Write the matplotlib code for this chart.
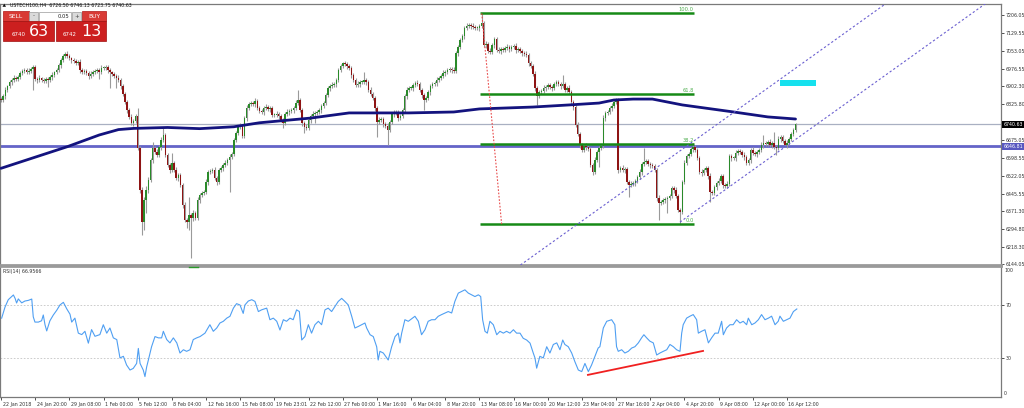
import matplotlib
matplotlib.use("Agg")
import matplotlib.pyplot as plt
from matplotlib.patches import Rectangle, Polygon
import matplotlib.transforms as mtransforms

# ---------------- data ----------------
first_open = 6850
closes = [
    6844, 6861, 6887, 6904, 6921, 6929, 6938, 6934, 6942, 6959,
    6968, 6972, 6963, 6968, 6976, 6985, 6934, 6929, 6938, 6929,
    6925, 6934, 6929, 6942, 6951, 6963, 6972, 6993, 7014, 7031,
    7040, 7031, 7023, 7014, 7010, 7002, 7006, 6972, 6963, 6968,
    6959, 6946, 6955, 6963, 6968, 6972, 6963, 6980, 6980, 6985,
    6972, 6963, 6955, 6946, 6938, 6929, 6904, 6870, 6835, 6801,
    6772, 6746, 6755, 6776, 6640, 6461, 6324, 6418, 6461, 6503,
    6588, 6640, 6623, 6610, 6644, 6674, 6695, 6610, 6567, 6546,
    6576, 6546, 6512, 6525, 6482, 6397, 6333, 6324, 6354, 6341,
    6363, 6341, 6418, 6439, 6448, 6452, 6495, 6537, 6542, 6546,
    6512, 6495, 6546, 6554, 6567, 6576, 6588, 6601, 6614, 6674,
    6703, 6729, 6733, 6691, 6767, 6810, 6827, 6831, 6827, 6840,
    6810, 6797, 6793, 6810, 6814, 6806, 6810, 6780, 6780, 6784,
    6776, 6759, 6746, 6784, 6793, 6797, 6801, 6810, 6831, 6844,
    6801, 6746, 6729, 6725, 6759, 6776, 6784, 6789, 6793, 6801,
    6818, 6831, 6865, 6895, 6904, 6908, 6912, 6929, 6972, 6989,
    7002, 6997, 6989, 6980, 6951, 6929, 6908, 6912, 6921, 6921,
    6929, 6921, 6887, 6870, 6852, 6810, 6750, 6759, 6763, 6742,
    6733, 6716, 6750, 6784, 6793, 6789, 6767, 6776, 6801, 6861,
    6887, 6895, 6895, 6908, 6916, 6912, 6887, 6865, 6844, 6852,
    6878, 6904, 6912, 6916, 6929, 6938, 6946, 6959, 6963, 6972,
    6976, 6972, 6968, 7044, 7070, 7100, 7117, 7151, 7159, 7163,
    7159, 7155, 7151, 7151, 7159, 7172, 7078, 7083, 7053, 7048,
    7078, 7104, 7057, 7053, 7061, 7057, 7065, 7070, 7061, 7070,
    7074, 7057, 7061, 7053, 7044, 7040, 7036, 7002, 6989, 6955,
    6895, 6861, 6878, 6882, 6895, 6899, 6908, 6899, 6895, 6912,
    6921, 6912, 6904, 6912, 6887, 6895, 6878, 6835, 6814, 6737,
    6699, 6652, 6631, 6648, 6644, 6635, 6567, 6537, 6588, 6622,
    6640, 6648, 6767, 6789, 6793, 6810, 6818, 6835, 6844, 6546,
    6554, 6546, 6550, 6495, 6482, 6486, 6490, 6499, 6516, 6537,
    6571, 6580, 6584, 6571, 6567, 6563, 6546, 6426, 6405, 6410,
    6418, 6422, 6426, 6435, 6469, 6461, 6435, 6375, 6367, 6495,
    6576, 6605, 6614, 6635, 6644, 6631, 6597, 6537, 6533, 6546,
    6554, 6520, 6452, 6448, 6473, 6490, 6499, 6520, 6482, 6478,
    6486, 6605, 6597, 6597, 6618, 6627, 6622, 6610, 6601, 6576,
    6588, 6631, 6618, 6614, 6622, 6631, 6652, 6661, 6657, 6665,
    6652, 6661, 6644, 6640, 6678, 6686, 6669, 6652, 6661, 6678,
    6699, 6716, 6740.63,
]
up_wick = [
    8, 10, 12, 6, 9, 8, 11, 7, 9, 10,
    6, 9, 8, 12, 7, 10, 9, 8, 11, 6,
    9, 7, 10, 8, 12, 6, 9, 8, 10, 7,
    9, 11, 8, 6, 10, 9, 7, 12, 8, 10,
    6, 9, 11, 8, 10, 7, 9, 12, 8, 10,
    7, 9, 6, 10, 8, 11, 9, 7, 10, 8,
    9, 12, 8, 10, 34, 9, 14, 11, 18, 12,
    10, 25, 8, 11, 9, 12, 30, 9, 10, 8,
    42, 9, 11, 8, 10, 7, 12, 9, 77, 10,
    14, 9, 11, 8, 10, 7, 12, 9, 10, 8,
    11, 9, 7, 10, 8, 12, 9, 11, 8, 10,
    9, 7, 11, 8, 10, 12, 9, 8, 10, 12,
    8, 10, 7, 9, 11, 8, 10, 9, 7, 12,
    9, 8, 10, 7, 11, 9, 8, 10, 12, 43,
    9, 10, 8, 11, 7, 9, 12, 8, 10, 9,
    11, 8, 10, 9, 7, 12, 8, 10, 9, 8,
    5, 9, 11, 8, 10, 7, 9, 12, 8, 10,
    34, 9, 8, 11, 7, 10, 9, 12, 8, 10,
    9, 11, 8, 10, 7, 9, 12, 8, 10, 9,
    11, 8, 10, 9, 7, 12, 8, 10, 9, 11,
    8, 10, 9, 7, 11, 8, 10, 12, 9, 8,
    10, 9, 11, 8, 10, 7, 9, 8, 12, 10,
    9, 11, 8, 10, 9, 42, 10, 12, 9, 11,
    10, 8, 9, 11, 8, 10, 9, 12, 8, 10,
    9, 11, 8, 10, 7, 9, 12, 8, 10, 9,
    11, 8, 10, 9, 12, 8, 10, 9, 11, 8,
    10, 9, 8, 38, 10, 9, 11, 8, 10, 9,
    12, 8, 10, 9, 11, 8, 10, 9, 12, 8,
    10, 9, 11, 8, 10, 9, 12, 8, 8, 10,
    9, 11, 8, 10, 9, 12, 8, 10, 9, 11,
    8, 60, 10, 9, 11, 8, 10, 9, 12, 8,
    10, 9, 11, 8, 10, 9, 12, 8, 10, 9,
    11, 8, 10, 9, 17, 8, 10, 9, 12, 8,
    10, 9, 11, 8, 10, 9, 12, 8, 10, 9,
    11, 8, 10, 9, 12, 8, 10, 9, 11, 8,
    10, 9, 12, 8, 10, 9, 11, 34, 10, 9,
    12, 8, 47, 9, 11, 8, 10, 9, 12, 8,
    10, 9, 6,
]
dn_wick = [
    9, 7, 11, 8, 10, 12, 8, 9, 7, 10,
    8, 11, 9, 7, 10, 89, 8, 12, 9, 10,
    7, 9, 30, 8, 11, 9, 10, 7, 12, 8,
    10, 9, 7, 11, 8, 10, 9, 12, 8, 10,
    9, 11, 8, 10, 7, 9, 30, 8, 10, 9,
    11, 68, 9, 8, 43, 10, 12, 9, 8, 11,
    10, 8, 12, 9, 10, 14, 55, 34, 55, 12,
    9, 11, 8, 10, 9, 12, 8, 10, 9, 11,
    8, 10, 9, 12, 8, 11, 10, 25, 34, 170,
    12, 10, 9, 11, 8, 10, 9, 12, 8, 10,
    9, 11, 8, 10, 12, 9, 8, 136, 10, 9,
    11, 8, 10, 10, 9, 12, 8, 10, 9, 11,
    10, 8, 9, 11, 8, 10, 12, 9, 10, 8,
    11, 9, 21, 10, 8, 12, 9, 11, 8, 10,
    9, 12, 26, 10, 8, 11, 9, 38, 10, 8,
    12, 9, 10, 8, 11, 9, 10, 12, 8, 9,
    10, 8, 11, 9, 12, 10, 8, 9, 11, 10,
    9, 12, 8, 10, 9, 11, 64, 10, 8, 12,
    9, 64, 10, 8, 11, 9, 12, 10, 8, 9,
    11, 10, 9, 12, 8, 10, 9, 11, 43, 10,
    8, 12, 9, 10, 11, 8, 10, 9, 12, 8,
    10, 11, 9, 8, 12, 10, 9, 11, 8, 10,
    12, 9, 10, 8, 11, 9, 10, 12, 8, 10,
    9, 11, 8, 10, 12, 9, 10, 8, 11, 9,
    10, 12, 8, 9, 11, 10, 8, 12, 9, 10,
    11, 38, 9, 10, 8, 12, 10, 9, 11, 8,
    10, 9, 12, 8, 11, 10, 9, 8, 12, 10,
    9, 11, 10, 8, 12, 9, 10, 12, 8, 10,
    63, 10, 9, 11, 8, 10, 12, 9, 10, 11,
    8, 10, 12, 9, 51, 10, 8, 11, 9, 10,
    12, 8, 10, 9, 11, 10, 8, 12, 72, 10,
    9, 11, 59, 10, 8, 12, 9, 10, 51, 10,
    8, 11, 10, 9, 12, 8, 10, 9, 11, 10,
    9, 12, 42, 10, 8, 11, 9, 10, 12, 8,
    10, 9, 11, 8, 12, 10, 9, 8, 11, 10,
    9, 12, 10, 8, 11, 9, 10, 12, 8, 10,
    9, 11, 10, 30, 8, 12, 9, 10, 11, 8,
    10, 9, 8,
]

# moving average
ma_bars = [0, 31, 46, 55, 62, 78, 93, 109, 121, 145, 163, 191, 212, 224,
           249, 266, 280, 287, 296, 305, 319, 343, 359, 372]
ma_vals = [6553, 6645, 6695, 6718, 6723, 6727, 6722, 6730, 6747, 6767, 6789,
           6789, 6793, 6806, 6814, 6823, 6831, 6844, 6848, 6848, 6823, 6793,
           6772, 6763]

# RSI(14) samples
rsi_bars = [0.3, 1.9, 3.4, 5.8, 6.6, 7.3, 8.1, 9.7, 11.2, 12.8, 14.4, 15.1, 15.9,
            17.5, 19.0, 19.8, 20.6, 21.4, 22.9, 24.5, 26.1, 27.6, 29.2, 30.8, 32.3,
            33.1, 34.6, 36.2, 37.8, 39.3, 40.9, 42.4, 44.0, 46.3, 47.9, 49.5, 51.0,
            52.6, 54.2, 55.7, 57.3, 58.8, 60.4, 61.9, 63.5, 64.3, 65.1, 66.6, 67.4,
            68.2, 69.0, 70.5, 72.1, 73.7, 75.2, 76.0, 77.6, 79.1, 80.7, 82.3, 83.8,
            85.4, 86.9, 88.5, 90.0, 91.6, 93.2, 95.5, 97.8, 99.4, 101.0, 102.5,
            104.1, 105.7, 107.2, 108.8, 110.3, 111.9, 113.4, 114.2, 115.8, 117.4,
            118.9, 120.5, 122.0, 124.4, 125.9, 127.5, 129.1, 130.6, 132.2, 133.7,
            135.3, 136.8, 138.4, 139.7, 140.8, 142.3, 143.9, 145.4, 147.0, 148.6,
            150.1, 151.7, 153.2, 154.8, 156.4, 157.9, 159.5, 161.0, 162.6, 164.2,
            165.7, 167.3, 168.9, 170.4, 171.2, 172.8, 174.3, 175.9, 176.6, 177.4,
            179.0, 180.6, 181.3, 182.9, 184.5, 186.0, 186.8, 187.6, 189.1, 190.7,
            193.8, 195.4, 196.9, 198.5, 200.0, 201.6, 203.2, 204.7, 206.3, 207.9,
            209.4, 211.0, 212.5, 214.1, 215.7, 217.2, 218.8, 220.4, 221.9, 223.5,
            224.6, 225.5, 226.6, 227.7, 228.9, 230.5, 232.1, 233.6, 235.2, 236.7,
            238.3, 239.9, 241.4, 243.0, 244.5, 246.1, 247.7, 249.2, 250.0, 250.8,
            252.3, 253.9, 255.5, 257.0, 258.6, 260.2, 261.7, 263.0, 264.0, 265.6,
            267.2, 268.7, 270.3, 271.9, 273.4, 275.0, 276.5, 278.1, 279.6, 280.4,
            282.0, 283.6, 285.9, 287.4, 288.2, 289.0, 290.6, 292.1, 293.7, 295.3,
            296.8, 298.4, 299.9, 301.0, 302.3, 303.8, 305.4, 307.0, 308.5, 310.1,
            311.7, 313.2, 314.8, 316.3, 317.9, 318.7, 319.4, 321.0, 322.6, 324.1,
            325.7, 326.5, 328.0, 329.6, 331.2, 332.7, 334.3, 335.8, 337.4, 338.2,
            339.7, 341.3, 342.8, 344.4, 346.0, 347.5, 349.1, 349.9, 351.5, 353.0,
            354.6, 356.1, 357.7, 359.3, 360.8, 362.4, 363.9, 364.7, 366.3, 367.9,
            369.4, 371.0, 372.6]
rsi_vals = [60, 68.5, 74, 77.6, 75, 71.5, 74.6, 71.6, 73, 73.5, 74.5, 61, 57,
            57, 58, 62.4, 55, 50.3, 58, 62.4, 66, 70, 72, 67, 63,
            57, 60, 48.6, 47.5, 50, 41, 51.3, 46.2, 47.5, 55, 48.6, 52.5,
            45, 43.7, 29.8, 31, 24.4, 20.6, 21.8, 25.6, 37, 25.6, 20.6, 15.6,
            23, 28.2, 38.3, 46, 45, 45, 50, 43.7, 41.2, 45, 41.2, 33.5,
            36, 34.8, 36, 43.7, 45, 46, 48.6, 55, 50, 52.5, 56.3,
            57.6, 60, 61.4, 67.6, 71, 70, 63.6, 70, 73, 74,
            72.7, 65, 66.3, 67.6, 58.8, 60, 57.6, 51, 58.8, 57.6,
            60, 58.8, 66.3, 65, 43.4, 46, 55, 48.6, 55, 57.6,
            55, 66.3, 67.6, 65, 69, 72.7, 75, 72.7, 70, 61.4,
            52.5, 53.7, 55, 56.3, 52.5, 47.4, 46, 38.2, 28.2, 34.8,
            33.5, 29.8, 28.2, 38.2, 46, 48.6, 41.2, 48.6, 58.8, 57.6,
            61.4, 57.6, 47.4, 51.2, 57.6, 58.8, 58.8, 61.4, 62.7, 63.9,
            65, 63.9, 72.7, 79, 80.3, 81.5, 79, 77.7, 76.4, 77.7,
            76.4, 58.8, 50, 48.6, 57.6, 55, 47.4, 50, 48.6, 50,
            48.6, 51.2, 48.6, 48.6, 44.7, 43.4, 41, 33.5, 29.8, 22,
            31, 29.8, 38.3, 33.5, 40, 41.2, 36, 43.4, 40, 38.3,
            33.5, 26.9, 20.6, 19.4, 25.6, 19.4, 24.4, 31, 37.3, 38.3,
            52.5, 57.6, 58.8, 55, 38.3, 34.8, 36, 33.5, 34.8, 37.3,
            38.3, 41.2, 45, 47.4, 45, 42.5, 41.2, 32, 33.5, 34.8,
            36, 40, 38.3, 36, 34.8, 48.6, 55, 60, 61.5, 62.7,
            58.8, 48.6, 50, 51.2, 41.2, 45, 48.6, 48.6, 57.6, 47.4,
            52.5, 55, 55, 58.8, 56.3, 57.6, 55, 60, 55, 56.3,
            58.8, 62.7, 58.8, 60, 61.5, 55, 57.6, 61.5, 57.6, 58.8,
            60, 65, 66.96]

price_ticks = [7206.05, 7129.55, 7053.05, 6976.55, 6902.30, 6825.80, 6675.05,
               6598.55, 6522.05, 6445.55, 6371.30, 6294.80, 6218.30, 6144.05]
time_ticks = [0, 16, 32, 48, 64, 80, 96, 112, 128, 144, 160, 176, 192, 208, 224,
              240, 256, 272, 288, 304, 320, 336, 352, 368]
time_labels = ["22 Jan 2018", "24 Jan 20:00", "29 Jan 08:00", "1 Feb 00:00",
               "5 Feb 12:00", "8 Feb 04:00", "12 Feb 16:00", "15 Feb 08:00",
               "19 Feb 23:01", "22 Feb 12:00", "27 Feb 00:00", "1 Mar 16:00",
               "6 Mar 04:00", "8 Mar 20:00", "13 Mar 08:00", "16 Mar 00:00",
               "20 Mar 12:00", "23 Mar 04:00", "27 Mar 16:00", "2 Apr 04:00",
               "4 Apr 20:00", "9 Apr 08:00", "12 Apr 00:00", "16 Apr 12:00"]

last_price = 6740.63
hline_price = 6646.81
fib_levels = [7213.0, 6869.8, 6657.7, 6314.5]
fib_labels = ["100.0", "61.8", "38.2", "0.0"]
fib_start, fib_end = 224.3, 324.4
fib_trend = ([225.1, 234.4], [7213.0, 6314.5])
# equidistant channel rays: two anchor points each, extended to the right
chan_a = ([243.2, 381.0], [6141.0, 7038.0])
chan_b = ([317.9, 380.0], [6324.0, 6728.0])
cyan_box = (364.7, 6903.6, 17.0, 25.4)
rsi_trend = ([274.8, 328.7], [16.9, 35.1])

# ---------------- figure ----------------
W, H = 1024, 408
plt.rcParams['font.family'] = ['DejaVu Sans']
fig = plt.figure(figsize=(W / 100, H / 100), dpi=100)
fig.patch.set_facecolor('white')

def frac(px0, py0, px1, py1):
    return [px0 / W, 1 - py1 / H, (px1 - px0) / W, (py1 - py0) / H]

ax = fig.add_axes(frac(0, 4, 1001, 265))
rax = fig.add_axes(frac(0, 266, 1001, 397))

XMIN, XMAX = -0.47, 468.2
ax.set_xlim(XMIN, XMAX)
ax.set_ylim(6141.1, 7253.0)
rax.set_xlim(XMIN, XMAX)
rax.set_ylim(0.1, 99.6)

# candles
n = len(closes)
opens = [first_open] + closes[:-1]
idx = list(range(n))
highs = [max(o, c) + u for o, c, u in zip(opens, closes, up_wick)]
lows = [min(o, c) - d for o, c, d in zip(opens, closes, dn_wick)]
ax.vlines(idx, lows, highs, color='#9a9a9a', lw=0.8, zorder=3)
bottoms = [min(o, c) for o, c in zip(opens, closes)]
heights = [max(abs(c - o), 2.5) for o, c in zip(opens, closes)]
cols = ['#2a8a2a' if c >= o else '#8e1414' for o, c in zip(opens, closes)]
ax.bar(idx, heights, bottom=bottoms, width=0.72, color=cols, lw=0, zorder=4)

# horizontal lines
ax.axhline(last_price, color='#a9b0c2', lw=0.9, zorder=2)
ax.axhline(hline_price, color='#6464c8', lw=2.0, zorder=2)

# moving average
ax.plot(ma_bars, ma_vals, color='#13137e', lw=2.0, zorder=5, solid_capstyle='round')

# fibonacci
ax.hlines(fib_levels, fib_start, fib_end, color='#168a16', lw=1.8, zorder=6)
for lv, lb in zip(fib_levels, fib_labels):
    ax.text(fib_end, lv + 4, lb, ha='right', va='bottom', fontsize=3.7,
            color='#4fae4f', zorder=7)
ax.plot(fib_trend[0], fib_trend[1], color='#e84a4a', lw=0.8,
        ls=(0, (1.5, 1.5)), zorder=6)

# channel rays (extended past the right edge, clipped by the axes)
for (xs, ys) in (chan_a, chan_b):
    slope = (ys[1] - ys[0]) / (xs[1] - xs[0])
    x_far = XMAX + 20
    ax.plot([xs[0], x_far], [ys[0], ys[0] + slope * (x_far - xs[0])],
            color='#6a5fd0', lw=0.8, ls=(0, (2, 2)), zorder=6)
bx, by, bw, bh = cyan_box
ax.add_patch(Rectangle((bx, by), bw, bh, color='#16e1ee', lw=0, zorder=6))

# axes styling
for a in (ax, rax):
    for s in a.spines.values():
        s.set_color('#7a7a7a')
        s.set_linewidth(0.9)
ax.spines['bottom'].set_linewidth(2.0)
ax.spines['bottom'].set_color('#9a9a9a')
rax.spines['top'].set_linewidth(2.0)
rax.spines['top'].set_color('#9a9a9a')

ax.set_xticks([])
ax.yaxis.tick_right()
ax.set_yticks(price_ticks)
ax.set_yticklabels([f"{p:.2f}" for p in price_ticks])
ax.tick_params(axis='y', length=2, width=0.6, pad=1.2, labelsize=3.4,
               colors='#333333')

def pbox(a, yv, txt, fc):
    tr = mtransforms.blended_transform_factory(a.transAxes, a.transData)
    a.text(1.0025, yv, txt, transform=tr, ha='left', va='center', fontsize=3.4,
           color='white', zorder=10, clip_on=False,
           bbox=dict(boxstyle='square,pad=0.25', fc=fc, ec=fc, lw=0))

pbox(ax, last_price, f"{last_price:.2f}", '#000000')
pbox(ax, hline_price, f"{hline_price:.2f}", '#5858c0')

# RSI pane
rax.plot(rsi_bars, rsi_vals, color='#4f9ff2', lw=0.8, zorder=4)
rax.axhline(70, color='#c4c4c4', lw=0.6, ls=(0, (2, 2)), zorder=2)
rax.axhline(30, color='#c4c4c4', lw=0.6, ls=(0, (2, 2)), zorder=2)
rax.plot(rsi_trend[0], rsi_trend[1], color='#f02020', lw=1.3, zorder=5)
rax.yaxis.tick_right()
rax.set_yticks([70, 30])
rax.set_yticklabels(['70', '30'])
rax.tick_params(axis='y', length=2, width=0.6, pad=1.2, labelsize=3.4,
                colors='#333333')
trr = mtransforms.blended_transform_factory(rax.transAxes, rax.transData)
rax.text(1.003, 96.0, '100', transform=trr, ha='left', va='center',
         fontsize=3.4, color='#333333')
rax.text(1.003, 3.0, '0', transform=trr, ha='left', va='center',
         fontsize=3.4, color='#333333')
rax.text(0.003, 97.0, 'RSI(14) 66.9566', transform=trr, ha='left', va='top',
         fontsize=3.4, color='#333333')
rax.plot([88, 92], [98.5, 98.5], color='#2a9a2a', lw=1.0, zorder=5)

rax.set_xticks(time_ticks)
rax.set_xticklabels(time_labels)
rax.tick_params(axis='x', length=2.5, width=0.6, pad=1.0, labelsize=3.4,
                colors='#333333')
off = mtransforms.ScaledTranslation(1.5 / 100, 0, fig.dpi_scale_trans)
for lab in rax.get_xticklabels():
    lab.set_horizontalalignment('left')
    lab.set_transform(lab.get_transform() + off)

# ---------------- trading panel overlay ----------------
ov = fig.add_axes([0, 0, 1, 1], zorder=20)
ov.set_xlim(0, W)
ov.set_ylim(H, 0)
ov.axis('off')
ov.patch.set_alpha(0)

ov.add_patch(Polygon([[2.5, 6.8], [6.0, 6.8], [4.25, 3.6]], closed=True,
                     color='#111111', lw=0))
ov.text(9.5, 5.3, 'USTECH100,H4  6726.50 6746.13 6723.75 6740.63', fontsize=3.4,
        va='center', ha='left', color='#111111')

ov.add_patch(Rectangle((3.3, 11), 25.2, 10, fc='#d93a35', ec='#b01515', lw=0.5))
ov.add_patch(Rectangle((81.7, 11), 24.5, 10, fc='#d93a35', ec='#b01515', lw=0.5))
ov.add_patch(Rectangle((29.3, 12), 9, 8.5, fc='#dadada', ec='#9a9a9a', lw=0.5))
ov.add_patch(Rectangle((71.8, 12), 9, 8.5, fc='#dadada', ec='#9a9a9a', lw=0.5))
ov.add_patch(Rectangle((39.3, 12), 32, 8.5, fc='white', ec='#9a9a9a', lw=0.5))
ov.add_patch(Rectangle((3.3, 21), 51, 20, fc='#cc1f1f', ec='#a01010', lw=0.5))
ov.add_patch(Rectangle((55.7, 21), 50.5, 20, fc='#cc1f1f', ec='#a01010', lw=0.5))

ov.text(15.5, 16.2, 'SELL', fontsize=4.3, color='white', ha='center', va='center')
ov.text(94, 16.2, 'BUY', fontsize=4.3, color='white', ha='center', va='center')
ov.text(33.8, 16.0, '-', fontsize=4.0, color='#444444', ha='center', va='center')
ov.text(76.3, 16.0, '+', fontsize=4.0, color='#444444', ha='center', va='center')
ov.text(69.5, 16.2, '0.05', fontsize=3.8, color='#222222', ha='right', va='center')
ov.text(11.5, 34.0, '6740', fontsize=4.0, color='white', ha='left', va='center')
ov.text(28.5, 31.0, '63', fontsize=11.5, color='white', ha='left', va='center')
ov.text(63.0, 34.0, '6742', fontsize=4.0, color='white', ha='left', va='center')
ov.text(81.5, 31.0, '13', fontsize=11.5, color='white', ha='left', va='center')

fig.savefig('out.png', dpi=100, facecolor='white')
